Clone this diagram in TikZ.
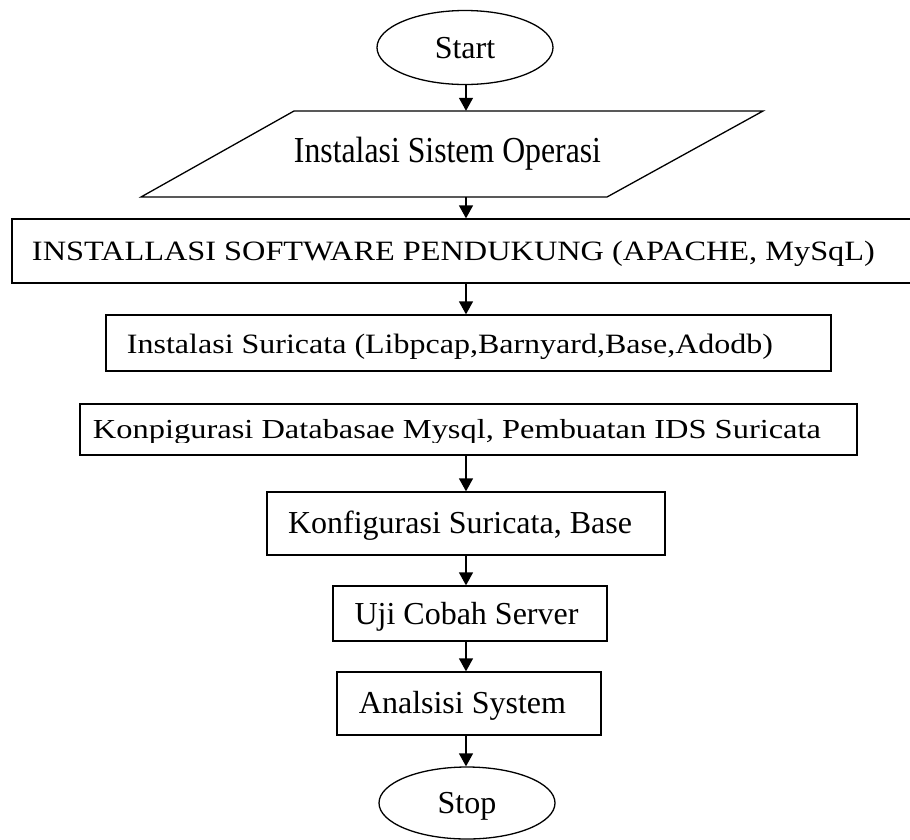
\documentclass[tikz,border=0pt]{standalone}
\usepackage{fontspec}
\setmainfont{Liberation Serif}
\usetikzlibrary{arrows.meta,shapes.geometric}
\begin{document}
\begin{tikzpicture}[x=1pt,y=-1pt,
  outline/.style={line width=1.3pt},
  boxnode/.style={draw, line width=1.3pt, rectangle, inner sep=0pt, minimum size=0pt},
  term/.style={draw, line width=1.3pt, ellipse, inner sep=0pt, minimum width=176pt, minimum height=74pt, font=\fontsize{32}{38}\selectfont, text height=21pt, text depth=0pt},
  txt/.style={inner sep=0pt, text depth=0pt},
  bigtxt/.style={txt, font=\fontsize{32}{38}\selectfont, text height=21pt},
  arr/.style={line width=1.3pt, -{Triangle[length=13pt,width=14pt]}},
]
\useasboundingbox (0,0) rectangle (910,839);
\coordinate (ax) at (466,0);

% Start
\node[term] (start) at (465,47.5) {Start};

% Parallelogram
\draw[outline] (294,111) -- (763,111) -- (607,197) -- (141,197) -- cycle;
\node[inner sep=0pt, minimum width=0pt, minimum height=86pt] (para) at (466,154) {};
\node[txt, font=\fontsize{36.6}{40}\selectfont, text height=24pt] (paratext) at (447.5,150) {\resizebox{307pt}{\height}{Instalasi Sistem Operasi}};

% Box 1
\node[boxnode, minimum width=900pt, minimum height=64pt] (b1) at (462,251) {};
\node[txt, font=\fontsize{28}{32}\selectfont, text height=18.5pt] (t1) at (453.5,251) {\resizebox{843pt}{\height}{INSTALLASI SOFTWARE PENDUKUNG (APACHE, MySqL)}};

% Box 2
\node[boxnode, minimum width=725pt, minimum height=56pt] (b2) at (468.5,343) {};
\node[txt, font=\fontsize{28}{32}\selectfont, text height=18.3pt] (t2) at (450,344) {\resizebox{646pt}{\height}{Instalasi Suricata (Libpcap,Barnyard,Base,Adodb)}};

% Box 3
\node[boxnode, minimum width=777pt, minimum height=51pt] (b3) at (468.5,429.5) {};
\begin{scope}
\clip (80,404) rectangle (857,442);
\node[txt, font=\fontsize{27.5}{32}\selectfont, text height=18pt] (t3) at (457,429) {\resizebox{728pt}{\height}{Konpigurasi Databasae Mysql, Pembuatan IDS Suricata}};
\end{scope}

% Box 4
\node[boxnode, minimum width=398pt, minimum height=63pt] (b4) at (466,523.5) {};
\node[bigtxt] (t4) at (460,522.5) {Konfigurasi Suricata, Base};

% Box 5
\node[boxnode, minimum width=274pt, minimum height=55pt] (b5) at (470,613.5) {};
\node[bigtxt] (t5) at (466.5,613.5) {Uji Cobah Server};

% Box 6
\node[boxnode, minimum width=264pt, minimum height=63pt] (b6) at (469,703.5) {};
\node[bigtxt] (t6) at (462.5,703) {Analsisi System};

% Stop
\node[term, minimum height=72pt] (stop) at (467,803) {Stop};

% Connectors
\draw[arr] (start.south -| ax) -- (para.north -| ax);
\draw[arr] (para.south -| ax) -- (b1.north -| ax);
\draw[arr] (b1.south -| ax) -- (b2.north -| ax);
\draw[arr] (b3.south -| ax) -- (b4.north -| ax);
\draw[arr] (b4.south -| ax) -- (b5.north -| ax);
\draw[arr] (b5.south -| ax) -- (b6.north -| ax);
\draw[arr] (b6.south -| ax) -- (stop.north -| ax);
\end{tikzpicture}
\end{document}
